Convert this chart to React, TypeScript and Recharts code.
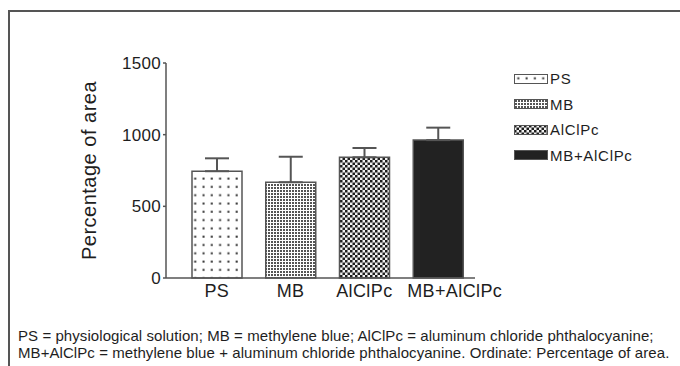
import React from "react";
import {
  BarChart,
  Bar,
  XAxis,
  YAxis,
  Cell,
  ErrorBar,
} from "recharts";

const groups = ["PS", "MB", "AlClPc", "MB+AlClPc"];
const means = [745, 668, 842, 962];
const sems = [90, 178, 65, 87];
const yTicks = [0, 500, 1000, 1500];
const fills = ["url(#pDots)", "url(#pGrid)", "url(#pCheck)", "#222"];

const caption1 =
  "PS = physiological solution; MB = methylene blue; AlClPc = aluminum chloride phthalocyanine;";
const caption2 =
  "MB+AlClPc = methylene blue + aluminum chloride phthalocyanine. Ordinate: Percentage of area.";

const data = groups.map((g, i) => ({
  name: g,
  value: means[i],
  err: [0, sems[i]],
}));

const FONT = '"Liberation Sans", Arial, Helvetica, sans-serif';
const INK = "#1e1e1e";
const LINE = "#555";

const Patterns = () => (
  <svg width={0} height={0} style={{ position: "absolute" }}>
    <defs>
      <pattern id="pDots" width={8.3} height={8.3} patternUnits="userSpaceOnUse">
        <rect width={8.3} height={8.3} fill="#fff" />
        <rect x={3.3} y={3.3} width={2} height={2} fill="#333" />
      </pattern>
      <pattern id="pGrid" width={3} height={3} patternUnits="userSpaceOnUse">
        <rect width={3} height={3} fill="#fff" />
        <rect x={1} y={1} width={2} height={2} fill="#555" />
      </pattern>
      <pattern id="pCheck" width={5} height={5} patternUnits="userSpaceOnUse">
        <rect width={5} height={5} fill="#f2f2f2" />
        <rect x={0} y={0} width={2.5} height={2.5} fill="#1e1e1e" />
        <rect x={2.5} y={2.5} width={2.5} height={2.5} fill="#1e1e1e" />
      </pattern>
    </defs>
  </svg>
);

// last label sits to the right of its bar in the original so it doesn't crowd AlClPc
const GroupTick = (props: any) => {
  const { x, y, payload, index } = props;
  const last = index === groups.length - 1;
  return (
    <text
      x={last ? x - 31 : x}
      y={y}
      dy="0.71em"
      textAnchor={last ? "start" : "middle"}
      fill={INK}
      fontSize={18}
      fontFamily={FONT}
      letterSpacing={0.4}
    >
      {payload.value}
    </text>
  );
};

const LegendBox = () => (
  <div style={{ position: "absolute", left: 514, top: 66, fontFamily: FONT }}>
    {groups.map((g, i) => (
      <div
        key={g}
        style={{ display: "flex", alignItems: "center", height: 25.5 }}
      >
        <svg width={34} height={10} style={{ display: "block" }}>
          <rect
            x={0.5}
            y={0.5}
            width={33}
            height={9}
            fill={fills[i]}
            stroke={LINE}
            strokeWidth={1}
          />
        </svg>
        <span
          style={{
            fontSize: 15,
            letterSpacing: 0.7,
            color: INK,
            marginLeft: 2,
          }}
        >
          {g}
        </span>
      </div>
    ))}
  </div>
);

export default function App() {
  return (
    <div
      style={{
        position: "absolute",
        left: 0,
        top: 0,
        width: 680,
        height: 366,
        background: "#fff",
        overflow: "hidden",
      }}
    >
      <Patterns />
      <div
        style={{
          position: "absolute",
          left: 8,
          top: 10,
          width: 680,
          height: 366,
          borderLeft: `2px solid ${LINE}`,
          borderTop: `2px solid ${LINE}`,
        }}
      />
      <div style={{ position: "absolute", left: 0, top: 0 }}>
        <BarChart
          width={680}
          height={310}
          data={data}
          margin={{ top: 63, right: 205, left: 0, bottom: 2 }}
          barSize={50}
        >
          <XAxis
            dataKey="name"
            height={30}
            interval={0}
            padding={{ left: 14, right: 0 }}
            tickLine={false}
            tickSize={0}
            tickMargin={6}
            axisLine={{ stroke: LINE, strokeWidth: 1.5 }}
            tick={<GroupTick />}
          />
          <YAxis
            width={166}
            domain={[0, 1500]}
            ticks={yTicks}
            interval={0}
            tickSize={3}
            axisLine={{ stroke: LINE, strokeWidth: 1.5 }}
            tickLine={{ stroke: LINE, strokeWidth: 1.5 }}
            tick={{ fill: INK, fontSize: 17, fontFamily: FONT, letterSpacing: 0.3 }}
            label={{
              value: "Percentage of area",
              angle: -90,
              position: "center",
              dx: 6,
              style: {
                fill: INK,
                fontSize: 20,
                fontFamily: FONT,
                letterSpacing: 0.5,
              },
            }}
          />
          <Bar
            dataKey="value"
            stroke={LINE}
            strokeWidth={1.5}
            isAnimationActive={false}
          >
            {data.map((d, i) => (
              <Cell key={d.name} fill={fills[i]} />
            ))}
            <ErrorBar
              dataKey="err"
              width={12}
              stroke={LINE}
              strokeWidth={2}
              direction="y"
            />
          </Bar>
        </BarChart>
      </div>
      <LegendBox />
      <div
        style={{
          position: "absolute",
          left: 18,
          top: 327,
          fontFamily: FONT,
          fontSize: 15,
          lineHeight: "17px",
          letterSpacing: 0.07,
          color: INK,
          whiteSpace: "nowrap",
        }}
      >
        <div>{caption1}</div>
        <div>{caption2}</div>
      </div>
    </div>
  );
}
